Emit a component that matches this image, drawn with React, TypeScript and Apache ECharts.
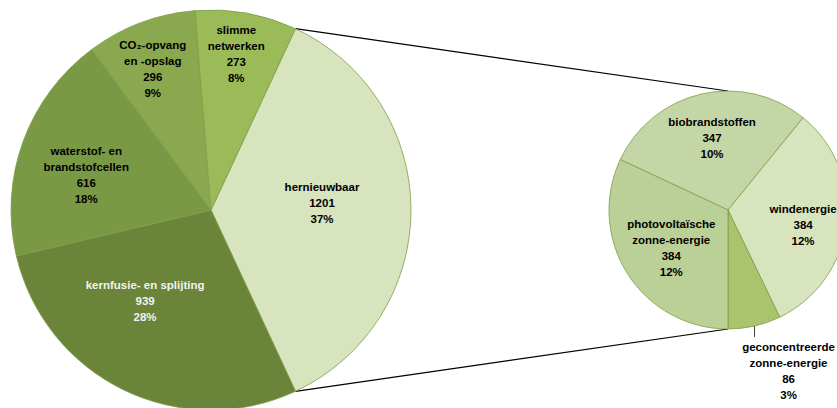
import React, { useEffect, useRef } from 'react';
import * as echarts from 'echarts';

// ---- data ----
const mainCategories = [
  'hernieuwbaar',
  'kernfusie- en splijting',
  'waterstof- en\nbrandstofcellen',
  'CO₂-opvang\nen -opslag',
  'slimme\nnetwerken',
];
const mainValues = [1201, 939, 616, 296, 273];
const mainPercents = ['37%', '28%', '18%', '9%', '8%'];

const subCategories = [
  'biobrandstoffen',
  'windenergie',
  'geconcentreerde\nzonne-energie',
  'photovoltaïsche\nzonne-energie',
];
const subValues = [347, 384, 86, 384];
const subPercents = ['10%', '12%', '3%', '12%'];

// ---- styles ----
const mainColors = ['#D7E4BD', '#6A843A', '#7A9944', '#8AA84E', '#9BBB59'];
const mainLabelColors = ['#000000', '#F2F2F2', '#000000', '#000000', '#000000'];
const mainLabelNudges = [[8, -7], [-21, -2], [-28, 0], [-22, -45], [7, -55]];
const subColors = ['#C5D6A6', '#D7E4BD', '#A9C46D', '#BBD096'];
const subLabelNudges = [[-2, -11], [13, 8], [0, 0], [-4, 4]];
const subOutsideIndex = 2;

const W = 837;
const H = 408;
const mainCenter = [211, 210];
const mainRadius = 200;
const subCenter = [728, 210];
const subRadius = 119;

const FONT = 'Liberation Sans, Arial, Helvetica, sans-serif';

export default function App() {
  const ref = useRef<HTMLDivElement>(null);
  useEffect(() => {
    if (!ref.current) return;
    const chart = echarts.init(ref.current, undefined, { renderer: 'svg' });
    const rad = Math.PI / 180;

    const mainTotal = mainValues.reduce((a, b) => a + b, 0);
    const expandedAngle = (360 * mainValues[0]) / mainTotal;
    const mainStart = expandedAngle / 2; // expanded slice centred on the right

    const subTotal = subValues.reduce((a, b) => a + b, 0);
    const upToSplit = subValues.slice(0, 3).reduce((a, b) => a + b, 0);
    const subStart = -90 + (360 * upToSplit) / subTotal;

    // geometry of outside label slice
    const beforeOut = subValues.slice(0, subOutsideIndex).reduce((a, b) => a + b, 0);
    const outMid = subStart - (360 * (beforeOut + subValues[subOutsideIndex] / 2)) / subTotal;
    const p0 = [
      subCenter[0] + subRadius * Math.cos(outMid * rad),
      subCenter[1] - subRadius * Math.sin(outMid * rad),
    ];

    const topMain = [
      mainCenter[0] + mainRadius * Math.cos(mainStart * rad),
      mainCenter[1] - mainRadius * Math.sin(mainStart * rad),
    ];
    const botMain = [
      mainCenter[0] + mainRadius * Math.cos(-mainStart * rad),
      mainCenter[1] - mainRadius * Math.sin(-mainStart * rad),
    ];

    const baseLabel = {
      fontFamily: FONT,
      fontWeight: 'bold' as const,
      fontSize: 11.5,
      lineHeight: 16,
      align: 'center' as const,
    };

    const mainData = mainCategories.map((name, i) => ({
      name,
      value: mainValues[i],
      itemStyle: { color: mainColors[i] },
      label: { color: mainLabelColors[i] },
    }));
    const subData = subCategories.map((name, i) => ({
      name,
      value: subValues[i],
      itemStyle: { color: subColors[i] },
      label:
        i === subOutsideIndex
          ? { position: 'outside', width: 110, color: '#000000' }
          : { position: 'inside', color: '#000000' },
      labelLine: { show: i === subOutsideIndex },
    }));

    chart.setOption({
      animation: false,
      backgroundColor: '#ffffff',
      graphic: [
        {
          type: 'line',
          silent: true,
          z: 0,
          shape: { x1: topMain[0], y1: topMain[1], x2: subCenter[0], y2: subCenter[1] - subRadius },
          style: { stroke: '#000000', lineWidth: 1.2 },
        },
        {
          type: 'line',
          silent: true,
          z: 0,
          shape: { x1: botMain[0], y1: botMain[1], x2: subCenter[0], y2: subCenter[1] + subRadius },
          style: { stroke: '#000000', lineWidth: 1.2 },
        },
      ],
      series: [
        {
          type: 'pie',
          silent: true,
          center: mainCenter,
          radius: mainRadius,
          startAngle: mainStart,
          clockwise: true,
          avoidLabelOverlap: false,
          itemStyle: { borderColor: '#7F9D4A', borderWidth: 0.8 },
          label: {
            show: true,
            position: 'inside',
            ...baseLabel,
            formatter: (p: any) => `${p.name}\n${p.value}\n${mainPercents[p.dataIndex]}`,
          },
          labelLine: { show: false },
          labelLayout: (p: any) => ({
            dx: mainLabelNudges[p.dataIndex][0],
            dy: mainLabelNudges[p.dataIndex][1],
          }),
          data: mainData,
        },
        {
          type: 'pie',
          silent: true,
          center: subCenter,
          radius: subRadius,
          startAngle: subStart,
          clockwise: true,
          avoidLabelOverlap: false,
          itemStyle: { borderColor: '#7F9D4A', borderWidth: 0.8 },
          label: {
            show: true,
            ...baseLabel,
            formatter: (p: any) => `${p.name}\n${p.value}\n${subPercents[p.dataIndex]}`,
          },
          labelLine: {
            length: 5,
            length2: 5,
            lineStyle: { color: '#404040', width: 1 },
          },
          labelLayout: (p: any) => {
            const i = p.dataIndex;
            if (i === subOutsideIndex) {
              return {
                x: p0[0] + 34,
                y: p0[1] + 13,
                align: 'center',
                verticalAlign: 'top',
                labelLinePoints: [
                  [p0[0], p0[1]],
                  [p0[0], p0[1] + 5],
                  [p0[0], p0[1] + 11],
                ],
              };
            }
            return { dx: subLabelNudges[i][0], dy: subLabelNudges[i][1] };
          },
          data: subData,
        },
      ],
    });
    return () => chart.dispose();
  }, []);
  return (
    <div
      ref={ref}
      style={{ position: 'fixed', left: 0, top: 0, width: W, height: H, background: '#fff' }}
    />
  );
}
